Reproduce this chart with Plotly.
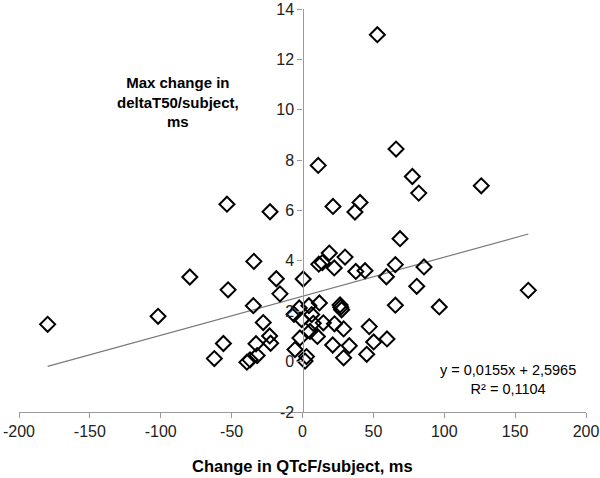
import plotly.graph_objects as go

# Data
qtcf = [-179.8, -101.9, -79.5, -53.3, -52.5, -55.8, -62.2, -34.3, -34.7, -22.9,
        -18.5, -15.9, -27.7, -23.2, -22.5, -32.8, -32.0, -37.0, -39.2, 0.5,
        -2.3, -6.0, -0.6, -1.8, -5.3, 1.8, 2.8, 4.5, 11.9, 6.5,
        7.6, 14.7, 22.6, 29.0, 5.3, 10.5, 21.3, 29.0, 26.5, 27.6,
        27.0, 33.0, 45.3, 50.2, 59.6, 47.1, 65.5, 96.5, 80.6, 159.3,
        85.7, 65.5, 59.2, 44.1, 37.6, 22.4, 14.0, 11.5, 18.9, 30.0,
        68.8, 37.0, 40.6, 21.5, 11.1, 66.0, 77.5, 82.0, 126.1, 52.8]
dt50 = [1.48, 1.80, 3.36, 6.25, 2.85, 0.72, 0.12, 3.98, 2.22, 5.95,
        3.29, 2.69, 1.55, 1.02, 0.73, 0.71, 0.24, 0.07, -0.02, 3.28,
        2.13, 1.88, 1.67, 0.94, 0.48, 0.02, 0.20, 2.22, 2.33, 1.87,
        1.52, 1.54, 1.50, 1.30, 1.20, 1.00, 0.66, 0.15, 2.25, 2.06,
        2.16, 0.63, 0.29, 0.78, 0.90, 1.39, 2.24, 2.17, 2.99, 2.83,
        3.76, 3.85, 3.37, 3.61, 3.58, 3.72, 3.93, 3.87, 4.31, 4.15,
        4.88, 5.94, 6.32, 6.16, 7.79, 8.44, 7.35, 6.69, 6.98, 12.98]

slope = 0.0155
intercept = 2.5965
r_squared = 0.1104

x_ticks = [-200, -150, -100, -50, 0, 50, 100, 150, 200]
x_tick_labels = ["-200", "-150", "-100", "-50", "0", "50", "100", "150", "200"]
y_ticks = [-2, 0, 2, 4, 6, 8, 10, 12, 14]
y_tick_labels = ["-2", "0", "2", "4", "6", "8", "10", "12", "14"]

trend_x = [min(qtcf), max(qtcf)]
trend_y = [slope * v + intercept for v in trend_x]

FONT = "Arial, Liberation Sans, sans-serif"

fig = go.Figure()
fig.add_trace(go.Scatter(
    x=trend_x, y=trend_y, mode="lines",
    line=dict(color="#7a7a7a", width=1.2), hoverinfo="skip", showlegend=False))
fig.add_trace(go.Scatter(
    x=qtcf, y=dt50, mode="markers",
    marker=dict(symbol="diamond-open", size=11.5, color="black",
                line=dict(color="black", width=2)),
    showlegend=False))

fig.add_annotation(x=-88, y=10.3, xref="x", yref="y",
                   text="<b>Max change in<br>deltaT50/subject,<br>ms</b>",
                   showarrow=False, align="center",
                   font=dict(family=FONT, size=15, color="black"))
fig.add_annotation(x=145, y=-0.72, xref="x", yref="y",
                   text="y = 0,0155x + 2,5965<br>R² = 0,1104",
                   showarrow=False, align="center",
                   font=dict(family=FONT, size=14.5, color="black"))
fig.add_annotation(x=0.5, y=-0.134, xref="paper", yref="paper",
                   text="<b>Change in QTcF/subject, ms</b>",
                   showarrow=False, yanchor="middle",
                   font=dict(family=FONT, size=16.5, color="black"))

fig.update_layout(
    width=600, height=478,
    margin=dict(l=19, r=14, t=9, b=66, autoexpand=False),
    paper_bgcolor="white", plot_bgcolor="white",
    font=dict(family=FONT, size=16, color="#222"),
    xaxis=dict(range=[-200, 200], tickvals=x_ticks, ticktext=x_tick_labels,
               showgrid=False, automargin=False,
               zeroline=False, showline=True, linecolor="#9a9a9a", linewidth=1.3,
               ticks="outside", ticklen=5, tickcolor="#9a9a9a", tickwidth=1.3,
               tickfont=dict(family=FONT, size=16, color="#222")),
    yaxis=dict(range=[-2, 14], tickvals=y_ticks, ticktext=y_tick_labels,
               showgrid=False, automargin=False,
               zeroline=False, showline=True, linecolor="#9a9a9a", linewidth=1.3,
               ticks="outside", ticklen=5, tickcolor="#9a9a9a", tickwidth=1.3,
               anchor="free", position=0.5,
               tickfont=dict(family=FONT, size=16, color="#222")),
)

fig.write_html("out.html", config={"displayModeBar": False},
               post_script="document.body.style.margin='0';document.body.style.overflow='hidden';")
